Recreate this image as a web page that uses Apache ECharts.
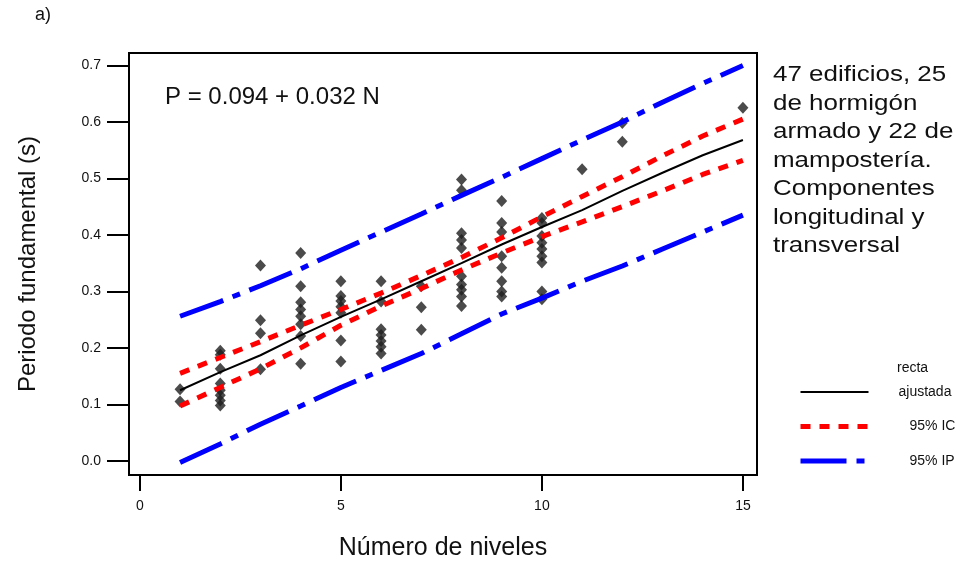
<!DOCTYPE html>
<html>
<head>
<meta charset="utf-8">
<script src="https://cdn.jsdelivr.net/npm/echarts@6/dist/echarts.min.js"></script>
<style>
  html, body { margin: 0; padding: 0; background: #fff; }
  #map { width: 964px; height: 566px; }
</style>
</head>
<body>
<div id="map"></div>
<script>
// 数据：niveles (N) y periodo (s)
var niveles = [1, 2, 3, 4, 5, 6, 7, 8, 9, 10, 11, 12, 13, 14, 15];
var recta = [0.125, 0.157, 0.187, 0.222, 0.255, 0.286, 0.318, 0.350, 0.383, 0.414, 0.444, 0.478, 0.510, 0.541, 0.568];
var icSup = [0.155, 0.183, 0.211, 0.240, 0.268, 0.297, 0.328, 0.360, 0.395, 0.432, 0.468, 0.503, 0.540, 0.575, 0.605];
var icInf = [0.097, 0.130, 0.163, 0.200, 0.240, 0.274, 0.305, 0.338, 0.368, 0.397, 0.423, 0.450, 0.478, 0.507, 0.532];
var ipSup = [0.256, 0.282, 0.310, 0.340, 0.373, 0.405, 0.437, 0.470, 0.502, 0.535, 0.568, 0.600, 0.635, 0.668, 0.700];
var ipInf = [-0.003, 0.030, 0.065, 0.097, 0.130, 0.160, 0.190, 0.225, 0.260, 0.288, 0.318, 0.345, 0.375, 0.405, 0.435];

// puntos medidos
var puntosN = [
  1, 1,
  2, 2, 2, 2, 2, 2, 2, 2,
  3, 3, 3, 3,
  4, 4, 4, 4, 4, 4, 4, 4,
  5, 5, 5, 5, 5, 5, 5,
  6, 6, 6, 6, 6, 6, 6,
  7, 7, 7,
  8, 8, 8, 8, 8, 8, 8, 8, 8, 8,
  9, 9, 9, 9, 9, 9, 9, 9,
  10, 10, 10, 10, 10, 10, 10, 10, 10,
  11,
  12, 12,
  15
];
var puntosT = [
  0.127, 0.105,
  0.195, 0.188, 0.163, 0.137, 0.125, 0.116, 0.107, 0.098,
  0.346, 0.249, 0.226, 0.162,
  0.368, 0.309, 0.281, 0.268, 0.256, 0.242, 0.221, 0.172,
  0.318, 0.292, 0.283, 0.273, 0.262, 0.213, 0.176,
  0.318, 0.282, 0.233, 0.223, 0.212, 0.202, 0.190,
  0.309, 0.272, 0.232,
  0.498, 0.479, 0.403, 0.391, 0.377, 0.327, 0.312, 0.303, 0.291, 0.274,
  0.460, 0.421, 0.405, 0.362, 0.342, 0.318, 0.300, 0.291,
  0.430, 0.421, 0.398, 0.386, 0.375, 0.362, 0.351, 0.300, 0.286,
  0.516,
  0.598, 0.565,
  0.625
];

var xTicks = [0, 5, 10, 15];
var yTicks = [0, 0.1, 0.2, 0.3, 0.4, 0.5, 0.6, 0.7];

var FONT = '"Liberation Sans", Arial, sans-serif';

function pares(xs, ys) {
  var out = [];
  for (var i = 0; i < xs.length; i++) {
    out.push([xs[i], ys[i]]);
  }
  return out;
}

var myChart = echarts.init(document.getElementById('map'));

var option = {
  backgroundColor: '#fff',
  animation: false,
  textStyle: { fontFamily: FONT },
  grid: {
    left: 129, top: 53, width: 628, height: 424,
    show: true, borderColor: '#000', borderWidth: 2
  },
  xAxis: {
    type: 'value',
    min: -0.27, max: 15.35,
    name: 'Número de niveles',
    nameLocation: 'middle',
    nameGap: 61,
    nameTextStyle: { fontSize: 25, color: '#111', fontFamily: FONT },
    axisLine: { show: true, onZero: false, lineStyle: { color: '#000', width: 2 } },
    axisTick: { show: true, length: 16, customValues: xTicks, lineStyle: { color: '#000', width: 2 } },
    axisLabel: { customValues: xTicks, margin: 24, fontSize: 14, color: '#111', fontFamily: FONT },
    splitLine: { show: false }
  },
  yAxis: {
    type: 'value',
    min: -0.025, max: 0.722,
    name: 'Periodo fundamental (s)',
    nameLocation: 'middle',
    nameGap: 89,
    nameTextStyle: { fontSize: 24, color: '#111', fontFamily: FONT },
    axisLine: { show: true, onZero: false, lineStyle: { color: '#000', width: 2 } },
    axisTick: { show: true, length: 22, customValues: yTicks, lineStyle: { color: '#000', width: 2 } },
    axisLabel: {
      customValues: yTicks, margin: 28, fontSize: 14, color: '#111', fontFamily: FONT,
      formatter: function (v) { return v.toFixed(1); }
    },
    splitLine: { show: false }
  },
  legend: {
    left: 798, top: 385, padding: 0,
    orient: 'vertical',
    itemWidth: 68, itemHeight: 14, itemGap: 20.5,
    itemStyle: { opacity: 0 },
    data: [
      { name: 'recta ajustada', lineStyle: { width: 2 } },
      { name: '95% IC', lineStyle: { width: 5 } },
      { name: '95% IP', lineStyle: { width: 5 } }
    ],
    formatter: function (n) {
      if (n === 'recta ajustada') return '{a|ajustada}';
      return '{b|' + n + '}';
    },
    textStyle: {
      fontSize: 14, color: '#111', fontFamily: FONT, lineHeight: 14,
      rich: {
        a: { fontSize: 14, fontFamily: FONT, color: '#111', padding: [0, 0, 0, 25] },
        b: { fontSize: 14, fontFamily: FONT, color: '#111', padding: [0, 0, 0, 36] }
      }
    }
  },
  graphic: [
    {
      type: 'text', left: 35, top: 6,
      style: { text: 'a)', font: '18px ' + FONT, fill: '#111' }
    },
    {
      type: 'text', left: 165, top: 85,
      style: { text: 'P = 0.094 + 0.032 N', font: '24px ' + FONT, fill: '#111' }
    },
    {
      type: 'text', left: 773, top: 61, scaleX: 1.18,
      style: {
        text: '47 edificios, 25\nde hormigón\narmado y 22 de\nmampostería.\nComponentes\nlongitudinal y\ntransversal',
        font: '22px ' + FONT, fill: '#111', lineHeight: 28.5
      }
    },
    {
      type: 'text', left: 897, top: 361,
      style: { text: 'recta', font: '14px ' + FONT, fill: '#111' }
    }
  ],
  series: [
    {
      name: 'datos',
      type: 'scatter',
      symbol: 'diamond',
      symbolSize: [11, 12],
      itemStyle: { color: '#1e1e1e' },
      z: 1,
      data: pares(puntosN, puntosT)
    },
    {
      name: 'recta ajustada',
      type: 'line',
      symbol: 'none',
      z: 3,
      lineStyle: { color: '#000', width: 2 },
      itemStyle: { color: '#000' },
      data: pares(niveles, recta)
    },
    {
      name: '95% IC',
      type: 'line',
      symbol: 'none',
      z: 2,
      lineStyle: { color: '#ff0000', width: 5, type: [10, 9] },
      itemStyle: { color: '#ff0000' },
      data: pares(niveles, icSup)
    },
    {
      name: '95% IC',
      type: 'line',
      symbol: 'none',
      z: 2,
      lineStyle: { color: '#ff0000', width: 5, type: [10, 9] },
      itemStyle: { color: '#ff0000' },
      data: pares(niveles, icInf)
    },
    {
      name: '95% IP',
      type: 'line',
      symbol: 'none',
      z: 2,
      lineStyle: { color: '#0000ff', width: 5, type: [46, 10, 8, 10] },
      itemStyle: { color: '#0000ff' },
      data: pares(niveles, ipSup)
    },
    {
      name: '95% IP',
      type: 'line',
      symbol: 'none',
      z: 2,
      lineStyle: { color: '#0000ff', width: 5, type: [46, 10, 8, 10] },
      itemStyle: { color: '#0000ff' },
      data: pares(niveles, ipInf)
    }
  ]
};

myChart.setOption(option);
</script>
</body>
</html>
